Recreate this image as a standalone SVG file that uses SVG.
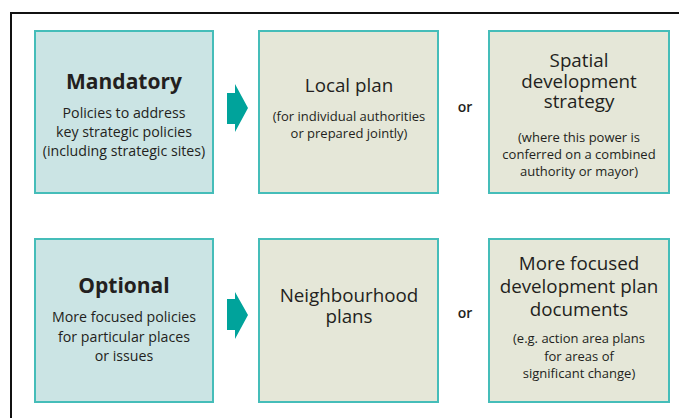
<svg xmlns="http://www.w3.org/2000/svg" width="679" height="418" viewBox="0 0 679 418">
<style>
.bg{fill:#ffffff}
.frame{fill:none;stroke:#111111;stroke-width:2}
.blue{fill:#cbe4e4;stroke:#45bdb9;stroke-width:2}
.beige{fill:#e5e7d8;stroke:#45bdb9;stroke-width:2}
.arrow{fill:#00a39b}
text{font-family:"Open Sans","Noto Sans","Liberation Sans",sans-serif;fill:#231f20;text-anchor:middle}
.hb{font-size:21px;font-weight:bold}
.h{font-size:18.8px}
.s{font-size:14.2px}
.t{font-size:13px}
.or{font-size:14px;font-weight:600}
</style>
<rect class="bg" x="0" y="0" width="679" height="418"/>
<path class="frame" d="M11 419 V13 H680"/>
<g id="connectors">
<polygon class="arrow" points="227,93 235,93 235,84 248,108 235,132 235,124 227,124"/>
<polygon class="arrow" points="227,299 235,299 235,292 248,315 235,339 235,330 227,330"/>
</g>
<g id="mandatory">
<rect class="blue" x="35" y="31" width="178" height="162"/>
<text class="hb" x="124" y="89">Mandatory</text>
<text class="s" x="124" y="118">Policies to address<tspan x="124" dy="19">key strategic policies</tspan><tspan x="124" dy="19">(including strategic sites)</tspan></text>
</g>
<g id="local-plan">
<rect class="beige" x="259" y="31" width="179" height="162"/>
<text class="h" x="349" y="92">Local plan</text>
<text class="t" x="349" y="121">(for individual authorities<tspan x="349" dy="17">or prepared jointly)</tspan></text>
</g>
<text class="or" x="465" y="112">or</text>
<g id="spatial">
<rect class="beige" x="489" y="31" width="180" height="162"/>
<text class="h" x="579" y="67">Spatial<tspan x="579" dy="21">development</tspan><tspan x="579" dy="20">strategy</tspan></text>
<text class="t" x="579" y="142">(where this power is<tspan x="579" dy="17">conferred on a combined</tspan><tspan x="579" dy="17">authority or mayor)</tspan></text>
</g>
<g id="optional">
<rect class="blue" x="35" y="239" width="178" height="163"/>
<text class="hb" x="124" y="293">Optional</text>
<text class="s" x="124" y="322">More focused policies<tspan x="124" dy="20">for particular places</tspan><tspan x="124" dy="19">or issues</tspan></text>
</g>
<g id="neighbourhood">
<rect class="beige" x="259" y="239" width="179" height="163"/>
<text class="h" x="349" y="302">Neighbourhood<tspan x="349" dy="21">plans</tspan></text>
</g>
<text class="or" x="465" y="318">or</text>
<g id="more-focused">
<rect class="beige" x="489" y="239" width="180" height="163"/>
<text class="h" x="579" y="270">More focused<tspan x="579" dy="23">development plan</tspan><tspan x="579" dy="23">documents</tspan></text>
<text class="t" x="579" y="343">(e.g. action area plans<tspan x="579" dy="18">for areas of</tspan><tspan x="579" dy="17">significant change)</tspan></text>
</g>
</svg>
